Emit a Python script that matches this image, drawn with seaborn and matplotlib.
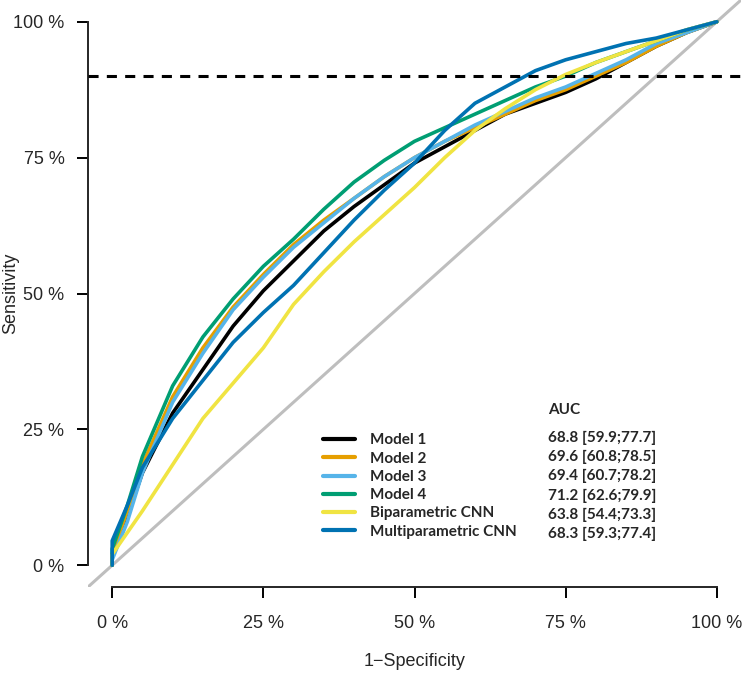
import seaborn as sns
import matplotlib.pyplot as plt
from matplotlib.lines import Line2D
from matplotlib.ticker import FixedLocator
import pandas as pd

# ROC curves (values in %)
fpr = [0, 0, 2.5, 5, 10, 15, 20, 25, 30, 35, 40, 45, 50,
       55, 60, 65, 70, 75, 80, 85, 90, 95, 100]

tpr_model1 = [0, 2, 9, 17, 28, 36, 44, 50.5, 56, 61.5, 66, 70, 74,
              77, 80, 83, 85, 87, 89.5, 92.5, 95.5, 98, 100]
tpr_model2 = [0, 2, 10, 18.5, 31, 40, 47.5, 53.5, 59, 63.5, 67.5, 71.5, 75,
              78, 80.5, 83, 85.5, 87.5, 90, 92.5, 95.5, 98, 100]
tpr_model3 = [0, 1, 8, 17, 30, 39, 47, 53, 58.5, 63, 67.5, 71.5, 75,
              78, 81, 83.5, 86, 88, 90.5, 93, 96, 98, 100]
tpr_model4 = [0, 3, 11, 20, 33, 42, 49, 55, 60, 65.5, 70.5, 74.5, 78,
              80.5, 83, 85.5, 88, 90, 92.5, 94.5, 96.5, 98.5, 100]
tpr_bicnn = [0, 2, 6, 10, 18.5, 27, 33.5, 40, 48, 54, 59.5, 64.5, 69.5,
             75, 80, 84, 87.5, 90.3, 92.5, 94.5, 96.5, 98.5, 100]
tpr_multicnn = [0, 4.5, 11, 18, 27, 34, 41, 46.5, 51.5, 57.5, 63.5, 69, 74,
                80, 85, 88, 91, 93, 94.5, 96, 97, 98.5, 100]

models = ["Model 1", "Model 2", "Model 3", "Model 4",
          "Biparametric CNN", "Multiparametric CNN"]
auc_text = ["68.8 [59.9;77.7]", "69.6 [60.8;78.5]", "69.4 [60.7;78.2]",
            "71.2 [62.6;79.9]", "63.8 [54.4;73.3]", "68.3 [59.3;77.4]"]
colors = ["#000000", "#E69F00", "#56B4E9", "#009E73", "#F0E442", "#0072B2"]

tick_vals = [0, 25, 50, 75, 100]
tick_labels = ["0 %", "25 %", "50 %", "75 %", "100 %"]
threshold = 90

rows = []
for name, tpr in zip(models, [tpr_model1, tpr_model2, tpr_model3,
                              tpr_model4, tpr_bicnn, tpr_multicnn]):
    for x, y in zip(fpr, tpr):
        rows.append({"fpr": x / 100, "tpr": y / 100, "model": name})
df = pd.DataFrame(rows)

sns.set_style("ticks")
plt.rcParams["font.family"] = ["Liberation Sans", "DejaVu Sans"]

fig = plt.figure(figsize=(7.44, 6.78), dpi=100)
ax = fig.add_axes([88 / 744, 91 / 678, 653 / 744, 587 / 678])

# chance line
ax.axline((0, 0), slope=1, color="#BEBEBE", lw=2.2, zorder=1)

sns.lineplot(data=df, x="fpr", y="tpr", hue="model", hue_order=models,
             palette=colors, estimator=None, sort=False, lw=2.6,
             legend=False, ax=ax, zorder=2)

ax.axhline(threshold / 100, color="black", lw=2.2, dashes=(3.3, 2.7), zorder=3)

ax.set_xlim(-0.04, 1.04)
ax.set_ylim(-0.04, 1.04)
ax.xaxis.set_major_locator(FixedLocator([v / 100 for v in tick_vals]))
ax.yaxis.set_major_locator(FixedLocator([v / 100 for v in tick_vals]))
ax.set_xticklabels(tick_labels)
ax.set_yticklabels(tick_labels)

for s in ["top", "right"]:
    ax.spines[s].set_visible(False)
for s in ["left", "bottom"]:
    ax.spines[s].set_bounds(0, 1)
    ax.spines[s].set_linewidth(1.4)
ax.tick_params(axis="both", length=8, width=1.4, labelsize=13, color="black")
ax.tick_params(axis="x", pad=12)
ax.tick_params(axis="y", pad=9)

ax.set_xlabel("1\u2212Specificity", fontsize=13)
ax.set_ylabel("Sensitivity", fontsize=13)
ax.xaxis.set_label_coords(0.5, -0.112)
ax.yaxis.set_label_coords(-0.105, 0.5)

# legend with AUC column
handles = [Line2D([], [], color=c, lw=3) for c in colors]
fs = 11
leg = ax.legend(handles, models, loc="center left",
                bbox_to_anchor=(323 / 744, 1 - 486 / 678),
                bbox_transform=fig.transFigure, frameon=False,
                borderpad=0, borderaxespad=0, handlelength=2.1,
                handletextpad=1.0, labelspacing=0.28,
                prop={"family": "Lato", "weight": "bold", "size": fs})

fig.text(548 / 744, 1 - 410 / 678, "AUC", family="Lato", weight="bold",
         size=fs, va="center", ha="left")
for i, t in enumerate(auc_text):
    fig.text(548 / 744, 1 - (438 + i * 19.2) / 678, t, family="Lato",
             weight="bold", size=fs, va="center", ha="left")

fig.savefig("out.png", dpi=100)
plt.close(fig)
